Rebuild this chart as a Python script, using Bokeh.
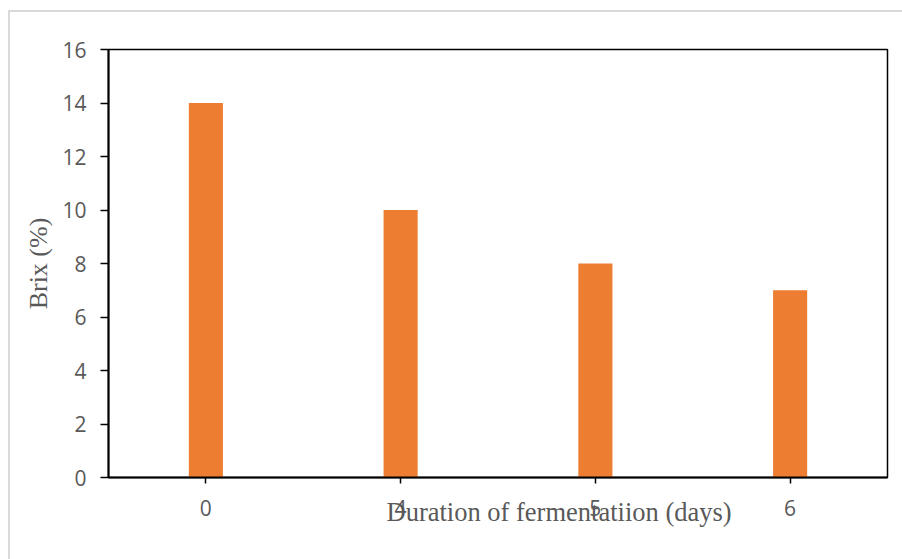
from bokeh.plotting import figure
from bokeh.models import FactorRange, Range1d, Title, SingleIntervalTicker
from bokeh.embed import file_html
from bokeh.resources import INLINE

# data
days = ["0", "4", "5", "6"]
brix = [14, 10, 8, 7]
y_ticks_step = 2
y_max = 16
x_title = "Duration of fermentatiion (days)"
y_title = "Brix (%)"

BAR_COLOR = "#ED7D31"
TEXT_COLOR = "#595959"

p = figure(
    width=902, height=559,
    x_range=FactorRange(factors=days),
    y_range=Range1d(0, y_max),
    output_backend="svg", toolbar_location=None,
    min_border_left=108, min_border_right=15,
    min_border_top=49, min_border_bottom=82,
)
p.background_fill_color = "white"
p.border_fill_color = None
p.grid.visible = False
p.outline_line_color = "black"
p.outline_line_width = 1.5

# light outer border of the chart area, drawn behind the transparent canvas
p.styles = {
    "background-color": "white",
    "background-image": "linear-gradient(#d9d9d9, #d9d9d9), linear-gradient(#d9d9d9, #d9d9d9)",
    "background-size": "2px 100%, 100% 2px",
    "background-position": "8px 10px, 8px 10px",
    "background-repeat": "no-repeat",
}

p.vbar(x=days, top=brix, width=0.175, fill_color=BAR_COLOR, line_color=None)

# y axis
ya = p.yaxis[0]
ya.ticker = SingleIntervalTicker(interval=y_ticks_step, num_minor_ticks=0)
ya.axis_line_color = "black"
ya.axis_line_width = 2
ya.major_tick_line_color = "black"
ya.major_tick_line_width = 1.5
ya.major_tick_out = 8
ya.major_tick_in = 0
ya.minor_tick_line_color = None
ya.major_label_standoff = 14
ya.major_label_text_font = "Open Sans"
ya.major_label_text_font_size = "21px"
ya.major_label_text_color = TEXT_COLOR
ya.axis_label = y_title
ya.axis_label_text_font = "Liberation Serif"
ya.axis_label_text_font_size = "26px"
ya.axis_label_text_font_style = "normal"
ya.axis_label_text_color = TEXT_COLOR
ya.axis_label_standoff = 6

# x axis
xa = p.xaxis[0]
xa.axis_line_color = "black"
xa.axis_line_width = 2
xa.major_tick_line_color = "black"
xa.major_tick_line_width = 1.5
xa.major_tick_out = 6
xa.major_tick_in = 0
xa.minor_tick_line_color = None
xa.major_label_standoff = 16
xa.major_label_text_font = "Open Sans"
xa.major_label_text_font_size = "21px"
xa.major_label_text_color = TEXT_COLOR

# x title (overlaps tick labels, shifted right, as in the original)
p.add_layout(Title(text=x_title, align="left", offset=278,
                   vertical_align="top", standoff=-44,
                   text_font="Liberation Serif",
                   text_font_size="26.5px", text_font_style="normal",
                   text_color=TEXT_COLOR), "below")

open("out.html", "w").write(file_html(p, INLINE))
